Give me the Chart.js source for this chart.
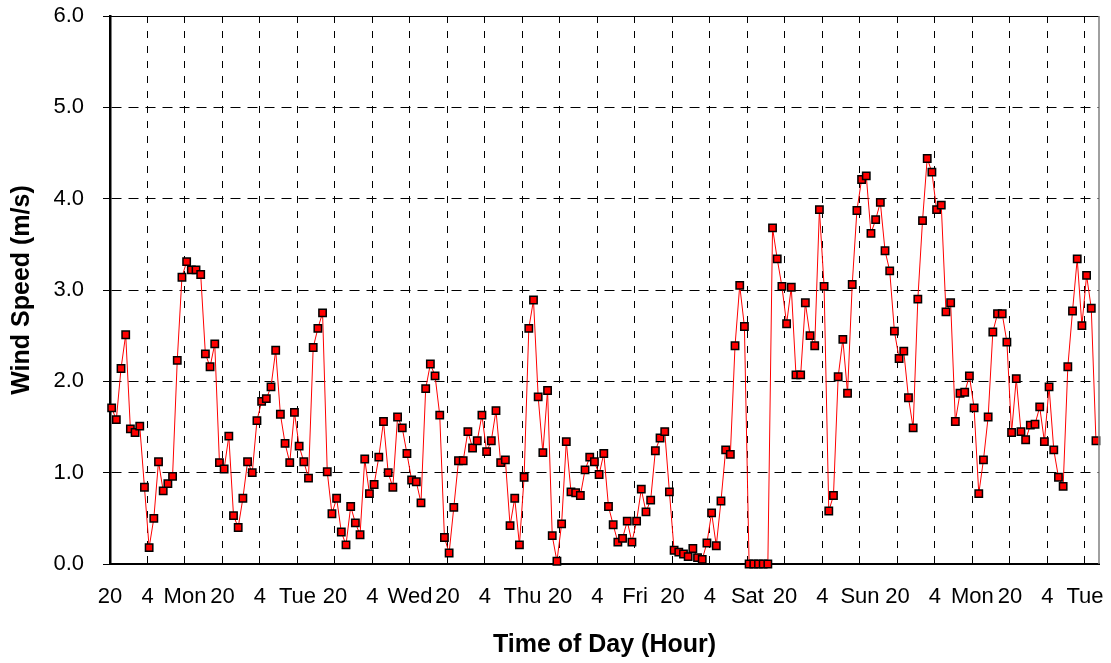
<!DOCTYPE html>
<html>
<head>
<meta charset="utf-8">
<script src="https://cdn.jsdelivr.net/npm/chart.js@4.4.1/dist/chart.umd.min.js"></script>
<style>
  html, body { margin: 0; padding: 0; background: #fff; }
  #wrap { width: 1111px; height: 663px; }
</style>
</head>
<body>
<div id="wrap"><canvas id="c" width="1111" height="663"></canvas></div>
<script>
// ---- data ----
const tickLabels = ['20','4','Mon','20','4','Tue','20','4','Wed','20','4','Thu','20','4','Fri',
                    '20','4','Sat','20','4','Sun','20','4','Mon','20','4','Tue'];
const tickHours = tickLabels.map((_, k) => k * 8);   // hours since first 20:00 mark
const firstReadingHour = 0.35;                      // first reading, hours after first mark
const axisEndHour = 211;
const yTicks = [0, 1, 2, 3, 4, 5, 6];

const windSpeed = [
  1.71, 1.58, 2.14, 2.51, 1.48, 1.44, 1.51, 0.84, 0.18, 0.50,
  1.12, 0.80, 0.88, 0.96, 2.23, 3.14, 3.31, 3.22, 3.22, 3.17,
  2.30, 2.16, 2.41, 1.11, 1.04, 1.40, 0.53, 0.40, 0.72, 1.12,
  1.00, 1.57, 1.78, 1.81, 1.94, 2.34, 1.64, 1.32, 1.11, 1.66,
  1.29, 1.12, 0.94, 2.37, 2.58, 2.75, 1.01, 0.55, 0.72, 0.35,
  0.21, 0.63, 0.45, 0.32, 1.15, 0.77, 0.87, 1.17, 1.56, 1.00,
  0.84, 1.61, 1.49, 1.21, 0.92, 0.90, 0.67, 1.92, 2.19, 2.06,
  1.63, 0.29, 0.12, 0.62, 1.13, 1.13, 1.45, 1.27, 1.35, 1.63,
  1.23, 1.35, 1.68, 1.11, 1.14, 0.42, 0.72, 0.21, 0.95, 2.58,
  2.89, 1.83, 1.22, 1.90, 0.31, 0.03, 0.44, 1.34, 0.79, 0.78,
  0.75, 1.03, 1.17, 1.12, 0.98, 1.21, 0.63, 0.43, 0.24, 0.28,
  0.47, 0.24, 0.47, 0.82, 0.57, 0.70, 1.24, 1.38, 1.45, 0.79,
  0.15, 0.13, 0.11, 0.08, 0.17, 0.07, 0.05, 0.23, 0.56, 0.20,
  0.69, 1.25, 1.20, 2.39, 3.05, 2.60, 0.00, 0.00, 0.00, 0.00,
  0.00, 3.68, 3.34, 3.04, 2.63, 3.03, 2.07, 2.07, 2.86, 2.50,
  2.39, 3.88, 3.04, 0.58, 0.75, 2.05, 2.46, 1.87, 3.06, 3.87,
  4.21, 4.25, 3.62, 3.77, 3.96, 3.43, 3.21, 2.55, 2.25, 2.33,
  1.82, 1.49, 2.90, 3.76, 4.44, 4.29, 3.88, 3.93, 2.76, 2.86,
  1.56, 1.87, 1.88, 2.06, 1.71, 0.77, 1.14, 1.61, 2.54, 2.74,
  2.74, 2.43, 1.44, 2.03, 1.45, 1.36, 1.52, 1.53, 1.72, 1.34,
  1.94, 1.25, 0.95, 0.85, 2.16, 2.77, 3.34, 2.61, 3.16, 2.80,
  1.35
];

// ---- chart ----
const points = windSpeed.map((v, i) => ({ x: firstReadingHour + i, y: v }));

Chart.defaults.font.family = '"Liberation Sans", Arial, sans-serif';
Chart.defaults.color = '#000';

const frame = {
  id: 'frame',
  afterDatasetsDraw(chart) {
    const { ctx, chartArea: a } = chart;
    ctx.save();
    ctx.lineWidth = 1;
    ctx.strokeStyle = '#000';
    ctx.beginPath();
    ctx.moveTo(a.left - 7, Math.round(a.top) + 0.5);
    ctx.lineTo(a.right, Math.round(a.top) + 0.5);
    ctx.stroke();
    ctx.strokeStyle = '#808080';
    ctx.lineWidth = 1.5;
    ctx.beginPath();
    ctx.moveTo(a.right, a.top);
    ctx.lineTo(a.right, a.bottom);
    ctx.stroke();
    ctx.restore();
  }
};

function noPad(scale) {
  scale.paddingTop = 0; scale.paddingBottom = 0;
  scale.paddingLeft = 0; scale.paddingRight = 0;
}

new Chart(document.getElementById('c'), {
  type: 'line',
  data: {
    datasets: [{
      data: points,
      borderColor: '#ff0000',
      borderWidth: 1,
      backgroundColor: '#ff0000',
      pointStyle: 'rect',
      pointRadius: 5.2,
      pointBorderColor: '#000',
      pointBorderWidth: 1.5,
      pointBackgroundColor: '#ff0000',
      tension: 0,
      clip: false
    }]
  },
  options: {
    responsive: false,
    animation: false,
    events: [],
    layout: { autoPadding: false, padding: { left: 0, top: 16, right: 12, bottom: 0 } },
    plugins: { legend: { display: false }, tooltip: { enabled: false } },
    scales: {
      x: {
        type: 'linear',
        min: 0,
        max: axisEndHour,
        afterBuildTicks(scale) { scale.ticks = tickHours.map(h => ({ value: h })); },
        afterFit(scale) { scale.height = 99; noPad(scale); },
        ticks: {
          autoSkip: false,
          maxRotation: 0,
          padding: 20,
          font: { size: 22 },
          callback(value) {
            const k = tickHours.indexOf(value);
            return k >= 0 ? tickLabels[k] : '';
          }
        },
        grid: { color: '#000', lineWidth: 1, drawTicks: false },
        border: { display: true, color: '#000', width: 2, dash: [7, 8] },
        title: {
          display: true,
          text: 'Time of Day (Hour)',
          font: { size: 25, weight: 'bold' },
          padding: { top: 0, bottom: 3 }
        }
      },
      y: {
        min: 0,
        max: 6,
        afterBuildTicks(scale) { scale.ticks = yTicks.map(v => ({ value: v })); },
        afterFit(scale) { scale.width = 110; noPad(scale); },
        ticks: {
          padding: 19,
          font: { size: 22 },
          callback(value) { return Number(value).toFixed(1); }
        },
        grid: { color: '#000', lineWidth: 1, drawTicks: true, tickLength: 7, tickColor: '#000', tickWidth: 1 },
        border: { display: true, color: '#000', width: 2.5, dash: [10, 7] },
        title: {
          display: true,
          text: 'Wind Speed (m/s)',
          font: { size: 25, weight: 'bold' },
          padding: { top: 7, bottom: 0 }
        }
      }
    }
  },
  plugins: [frame]
});
</script>
</body>
</html>
